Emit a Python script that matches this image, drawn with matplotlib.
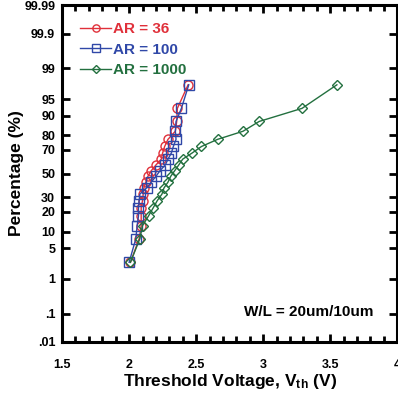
import numpy as np
import matplotlib
matplotlib.use('Agg')
import matplotlib.pyplot as plt
from matplotlib.ticker import FixedLocator, MultipleLocator, FixedFormatter
from statistics import NormalDist

plt.rcParams['font.family'] = ['Liberation Sans', 'DejaVu Sans']
plt.rcParams['font.weight'] = 'bold'
plt.rcParams['mathtext.fontset'] = 'custom'
plt.rcParams['mathtext.rm'] = 'Liberation Sans:bold'
plt.rcParams['mathtext.it'] = 'Liberation Sans:bold'
plt.rcParams['mathtext.bf'] = 'Liberation Sans:bold'
plt.rcParams['mathtext.default'] = 'bf'

# cumulative percentage for 20 devices per group
pct = [2.5, 7.5, 12.5, 17.5, 22.5, 27.5, 32.5, 37.5, 42.5, 47.5,
       52.5, 57.5, 62.5, 67.5, 72.5, 77.5, 82.5, 87.5, 92.5, 97.5]

vth_ar36 = [2.01, 2.075, 2.09, 2.09, 2.09, 2.10, 2.105, 2.11, 2.125, 2.14,
            2.165, 2.20, 2.24, 2.25, 2.265, 2.29, 2.345, 2.355, 2.36, 2.44]
vth_ar100 = [2.00, 2.05, 2.06, 2.07, 2.07, 2.075, 2.08, 2.13, 2.165, 2.20,
             2.23, 2.27, 2.29, 2.315, 2.33, 2.35, 2.345, 2.35, 2.39, 2.445]
vth_ar1000 = [2.01, 2.08, 2.10, 2.145, 2.18, 2.21, 2.245, 2.26, 2.29, 2.31,
              2.34, 2.37, 2.40, 2.47, 2.54, 2.66, 2.85, 2.97, 3.29, 3.55]

ytick_vals = [0.01, 0.1, 1, 5, 10, 20, 30, 50, 70, 80, 90, 95, 99, 99.9, 99.99]
ytick_labels = ['.01', '.1', '1', '5', '10', '20', '30', '50', '70', '80',
                '90', '95', '99', '99.9', '99.99']
xtick_vals = [1.5, 2, 2.5, 3, 3.5, 4]
xtick_labels = ['1.5', '2', '2.5', '3', '3.5', '4']

nd = NormalDist()


def fwd(p):  # percent -> probit
    p = np.clip(np.asarray(p, dtype=float), 1e-9, 100 - 1e-9)
    return np.vectorize(lambda v: nd.inv_cdf(v / 100.0))(p) if p.size else p


def inv(z):
    z = np.asarray(z, dtype=float)
    return np.vectorize(lambda v: nd.cdf(v) * 100.0)(z) if z.size else z


fig = plt.figure(figsize=(3.98, 3.94), dpi=100)
ax = fig.add_axes([0.156, 0.132, 0.842, 0.855])
ax.set_yscale('function', functions=(fwd, inv))

red = '#e0303a'
blue = '#3048a8'
green = '#23703f'
ax.plot(vth_ar36, pct, '-o', color=red, mfc='none', ms=6.5, mew=1, lw=1, label='AR = 36')
ax.plot(vth_ar100, pct, '-s', color=blue, mfc='none', ms=6.5, mew=1, lw=1, label='AR = 100')
ax.plot(vth_ar1000, pct, '-D', color=green, mfc='none', ms=5.5, mew=1, lw=1, label='AR = 1000')

ax.set_xlim(1.5, 4)
ax.set_ylim(0.01, 99.99)
ax.xaxis.set_major_locator(FixedLocator(xtick_vals))
ax.xaxis.set_major_formatter(FixedFormatter(xtick_labels))
ax.xaxis.set_minor_locator(MultipleLocator(0.1))
ax.yaxis.set_major_locator(FixedLocator(ytick_vals))
ax.yaxis.set_major_formatter(FixedFormatter(ytick_labels))
ax.yaxis.set_minor_locator(FixedLocator([]))

ax.tick_params(which='both', direction='in', top=True, right=True, width=2)
ax.tick_params(which='major', length=6, labelsize=9, pad=5)
ax.tick_params(axis='x', which='major', pad=12)
ax.tick_params(which='minor', length=4)
for s in ax.spines.values():
    s.set_linewidth(2.2)

ax.set_xlabel(r'Threshold Voltage, V$_{th}$ (V)', fontsize=12.5, fontweight='bold', labelpad=1)
ax.set_ylabel('Percentage (%)', fontsize=12.5, fontweight='bold', labelpad=0)

leg = ax.legend(loc='upper left', frameon=False, fontsize=11, handlelength=2.0,
                handletextpad=0.15, labelspacing=0.42, borderaxespad=0.0,
                markerscale=0.8, bbox_to_anchor=(0.036, 0.967))
for t, c in zip(leg.get_texts(), [red, blue, green]):
    t.set_color(c)
    t.set_fontweight('bold')

ax.text(0.93, 0.09, 'W/L = 20um/10um', transform=ax.transAxes, ha='right', va='center',
        fontsize=11, fontweight='bold')

fig.savefig('out.png', dpi=100)
